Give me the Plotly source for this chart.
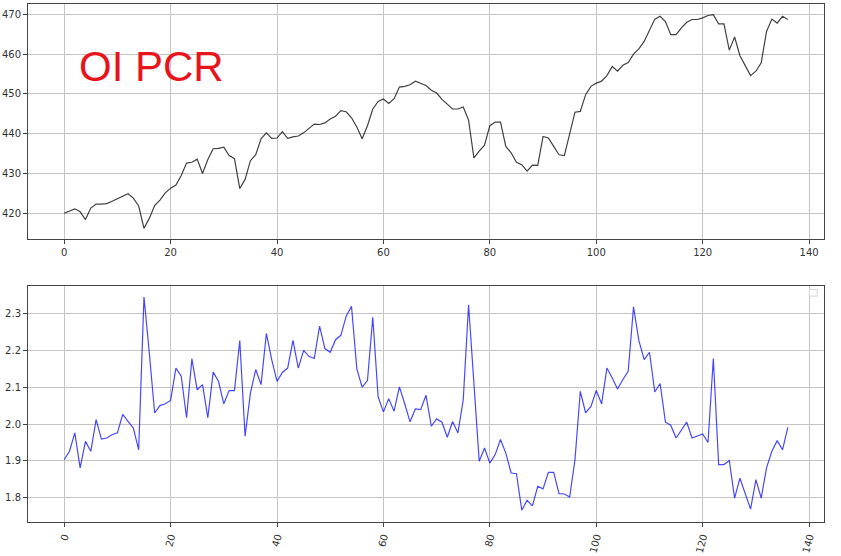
import plotly.graph_objects as go
from plotly.subplots import make_subplots

x_idx = list(range(137))

price = [420.0, 420.6, 421.1, 420.4, 418.4, 421.3, 422.3, 422.3, 422.4, 423.0,
         423.6, 424.4, 424.9, 423.8, 421.8, 416.2, 418.7, 421.9, 423.3, 425.1,
         426.3, 427.1, 429.5, 432.6, 432.8, 433.6, 430.0, 433.5, 436.2, 436.3,
         436.6, 434.5, 433.7, 426.2, 428.5, 433.2, 434.7, 438.7, 440.2, 438.8,
         438.9, 440.5, 438.8, 439.2, 439.4, 440.2, 441.2, 442.4, 442.3, 442.7,
         443.7, 444.4, 445.8, 445.5, 444.0, 441.7, 438.7, 442.0, 446.2, 448.1,
         448.7, 447.6, 448.8, 451.7, 451.9, 452.3, 453.2, 452.7, 452.1, 450.9,
         450.2, 448.6, 447.3, 446.2, 446.2, 446.7, 443.4, 433.9, 435.6, 437.1,
         442.0, 442.9, 442.9, 436.8, 435.2, 432.8, 432.2, 430.6, 432.1, 432.0,
         439.3, 438.9, 436.8, 434.7, 434.5, 440.2, 445.4, 445.6, 449.8, 451.9,
         452.7, 453.2, 454.6, 456.9, 455.7, 457.2, 457.9, 460.0, 461.3, 463.2,
         466.0, 468.8, 469.5, 468.2, 464.9, 464.9, 466.6, 468.0, 468.7, 468.7,
         469.1, 469.7, 469.9, 467.6, 467.6, 461.0, 464.3, 459.6, 457.1, 454.6,
         455.7, 457.8, 465.7, 468.8, 467.8, 469.5, 468.7]

pcr = [1.903, 1.926, 1.976, 1.881, 1.953, 1.926, 2.012, 1.959, 1.962, 1.971,
       1.976, 2.026, 2.007, 1.989, 1.930, 2.345, 2.193, 2.030, 2.050, 2.055,
       2.064, 2.152, 2.130, 2.017, 2.177, 2.093, 2.107, 2.017, 2.141, 2.116,
       2.055, 2.091, 2.091, 2.227, 1.967, 2.084, 2.148, 2.107, 2.246, 2.175,
       2.116, 2.140, 2.152, 2.227, 2.152, 2.200, 2.184, 2.178, 2.266, 2.205,
       2.195, 2.229, 2.241, 2.293, 2.320, 2.150, 2.100, 2.118, 2.290, 2.074,
       2.033, 2.069, 2.035, 2.101, 2.055, 2.006, 2.041, 2.039, 2.078, 1.994,
       2.014, 2.005, 1.964, 2.007, 1.976, 2.066, 2.324, 2.103, 1.899, 1.935,
       1.894, 1.917, 1.958, 1.921, 1.867, 1.865, 1.766, 1.793, 1.778, 1.831,
       1.824, 1.869, 1.869, 1.811, 1.810, 1.802, 1.903, 2.089, 2.030, 2.048,
       2.091, 2.055, 2.152, 2.125, 2.095, 2.121, 2.143, 2.318, 2.227, 2.175,
       2.195, 2.087, 2.110, 2.005, 1.997, 1.962, 1.985, 2.005, 1.962, 1.968,
       1.973, 1.950, 2.178, 1.890, 1.890, 1.901, 1.799, 1.853, 1.813, 1.769,
       1.849, 1.799, 1.881, 1.926, 1.955, 1.930, 1.991]

x_ticks = [0, 20, 40, 60, 80, 100, 120, 140]
top_yticks = [420, 430, 440, 450, 460, 470]
bot_yticks = [1.8, 1.9, 2.0, 2.1, 2.2, 2.3]
annotation_text = "OI PCR"

fig = make_subplots(rows=2, cols=1, vertical_spacing=0.092)

fig.add_trace(go.Scatter(x=x_idx, y=price, mode="lines",
                         line=dict(color="rgba(0,0,0,0.75)", width=1.2),
                         showlegend=False), row=1, col=1)
fig.add_trace(go.Scatter(x=x_idx, y=pcr, mode="lines",
                         line=dict(color="rgba(0,0,255,0.72)", width=1.2),
                         showlegend=False), row=2, col=1)

axis_common = dict(showgrid=True, gridcolor="#c4c4c4", gridwidth=1,
                   showline=True, linecolor="#444444", linewidth=1, mirror=True,
                   ticks="outside", ticklen=4, tickcolor="#444444",
                   tickfont=dict(family="DejaVu Sans", size=10, color="#333333"),
                   zeroline=False, automargin=False)

fig.update_xaxes(range=[-6.8, 142.8], tickvals=x_ticks, **axis_common)
fig.update_xaxes(tickangle=-75, row=2, col=1)
fig.update_yaxes(range=[413.6, 472.6], tickvals=top_yticks, row=1, col=1, **axis_common)
fig.update_yaxes(range=[1.734, 2.374], tickvals=bot_yticks,
                 ticktext=[f"{v:.1f}" for v in bot_yticks], row=2, col=1, **axis_common)

fig.update_layout(
    width=841, height=556,
    margin=dict(l=28, r=17, t=4, b=34),
    paper_bgcolor="white", plot_bgcolor="white",
    yaxis=dict(domain=[0.547, 1.0]),
    yaxis2=dict(domain=[0.0, 0.455]),
    showlegend=False,
)

fig.add_annotation(x=16.4, y=457.0, xref="x", yref="y", text=annotation_text,
                   showarrow=False,
                   font=dict(family="Liberation Sans Narrow, Liberation Sans", size=42, color="#e8141c"))

# empty legend frame in the lower panel
fig.add_shape(type="rect", xref="paper", yref="paper",
              x0=0.9815, x1=0.9915, y0=0.436, y1=0.449,
              line=dict(color="#d8d8d8", width=1), fillcolor="white")

fig.write_html("out.html", config={"displayModeBar": False},
               post_script="document.body.style.margin='0px';document.body.style.overflow='hidden';")
